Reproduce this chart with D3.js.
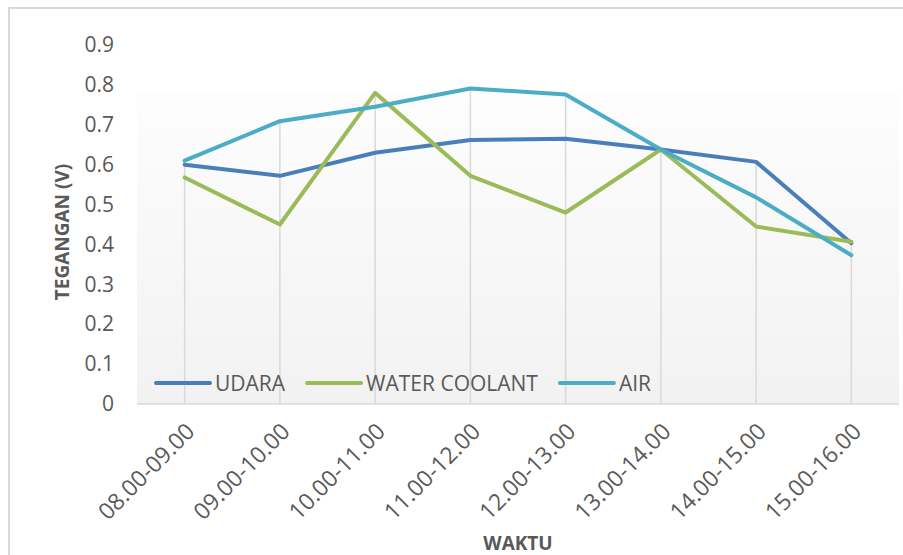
<!DOCTYPE html>
<html>
<head>
<meta charset="utf-8">
<script src="https://cdn.jsdelivr.net/npm/d3@7/dist/d3.min.js"></script>
<style>
  html, body { margin: 0; padding: 0; background: #ffffff; }
  svg { display: block; font-family: "Open Sans", "DejaVu Sans", sans-serif; }
</style>
</head>
<body>
<svg id="chart" width="903" height="555"></svg>
<script>
const categories = ["08.00-09.00","09.00-10.00","10.00-11.00","11.00-12.00","12.00-13.00","13.00-14.00","14.00-15.00","15.00-16.00"];
const udara = [0.60, 0.572, 0.63, 0.662, 0.665, 0.638, 0.607, 0.403];
const waterCoolant = [0.568, 0.45, 0.78, 0.572, 0.48, 0.638, 0.445, 0.407];
const air = [0.61, 0.709, 0.745, 0.791, 0.776, 0.638, 0.518, 0.373];
const yTicks = [0, 0.1, 0.2, 0.3, 0.4, 0.5, 0.6, 0.7, 0.8, 0.9];
const seriesNames = ["UDARA", "WATER COOLANT", "AIR"];
const seriesColors = ["#4a7ebb", "#9bbb59", "#4bacc6"];
const seriesValues = [udara, waterCoolant, air];

const svg = d3.select("#chart");
const textColor = "#595959";

// chart frame
svg.append("rect").attr("x", 9).attr("y", 8).attr("width", 910).attr("height", 570)
  .attr("fill", "#ffffff").attr("stroke", "#d9d9d9").attr("stroke-width", 2);

const plotLeft = 137, plotRight = 899, plotTop = 92, plotBottom = 404;

const x = d3.scalePoint().domain(categories).range([plotLeft, plotRight]).padding(0.5);
const y = d3.scaleLinear().domain([0, 0.9]).range([404, 45]);

// plot area gradient
const defs = svg.append("defs");
const grad = defs.append("linearGradient").attr("id", "pa").attr("x1", 0).attr("y1", 0).attr("x2", 0).attr("y2", 1);
grad.append("stop").attr("offset", "0%").attr("stop-color", "#fdfdfd");
grad.append("stop").attr("offset", "100%").attr("stop-color", "#f2f2f2");
svg.append("rect").attr("x", plotLeft).attr("y", plotTop)
  .attr("width", plotRight - plotLeft).attr("height", plotBottom - plotTop)
  .attr("fill", "url(#pa)");

// drop lines
const maxes = categories.map((c, i) => d3.max(seriesValues, s => s[i]));
svg.append("g").selectAll("line").data(categories).join("line")
  .attr("x1", d => x(d)).attr("x2", d => x(d))
  .attr("y1", (d, i) => y(maxes[i])).attr("y2", y(0))
  .attr("stroke", "#d9d9d9").attr("stroke-width", 1.5);

// x axis line
svg.append("line").attr("x1", plotLeft).attr("x2", plotRight)
  .attr("y1", y(0)).attr("y2", y(0))
  .attr("stroke", "#d9d9d9").attr("stroke-width", 1.5);

// y axis labels
const yAxis = d3.axisLeft(y).tickValues(yTicks).tickFormat(d => d === 0 ? "0" : d3.format(".1f")(d)).tickSize(0).tickPadding(0);
const yg = svg.append("g").attr("transform", "translate(114,0)").call(yAxis);
yg.select(".domain").remove();
yg.selectAll("text").attr("fill", textColor).style("font-size", "21px").style("font-family", "'Open Sans', sans-serif");

// x axis labels
const xAxis = d3.axisBottom(x).tickSize(0).tickPadding(0);
const xg = svg.append("g").attr("transform", `translate(0,${y(0)})`).call(xAxis);
xg.select(".domain").remove();
xg.selectAll("text")
  .attr("fill", textColor).style("font-size", "23px").style("font-family", "'Open Sans', sans-serif")
  .attr("text-anchor", "end").attr("dy", null).attr("y", 0)
  .attr("transform", "translate(11,29) rotate(-45)");

// lines
const line = d3.line().x((d, i) => x(categories[i])).y(d => y(d));
seriesValues.forEach((s, k) => {
  svg.append("path").datum(s).attr("d", line)
    .attr("fill", "none").attr("stroke", seriesColors[k]).attr("stroke-width", 4)
    .attr("stroke-linejoin", "round").attr("stroke-linecap", "round");
});

// legend
const legendY = 383;
let lx = 156;
seriesNames.forEach((n, k) => {
  svg.append("line").attr("x1", lx).attr("x2", lx + 54).attr("y1", legendY).attr("y2", legendY)
    .attr("stroke", seriesColors[k]).attr("stroke-width", 4).attr("stroke-linecap", "round");
  const t = svg.append("text").attr("x", lx + 59).attr("y", legendY).attr("dy", "0.36em")
    .attr("fill", textColor).style("font-size", "21px").text(n);
  lx = lx + 59 + t.node().getComputedTextLength() + 22;
});

// axis titles
svg.append("text").attr("transform", `translate(69,${232}) rotate(-90)`)
  .attr("text-anchor", "middle").attr("fill", textColor)
  .style("font-size", "19px").style("font-weight", "bold").text("TEGANGAN (V)");
svg.append("text").attr("x", (plotLeft + plotRight) / 2).attr("y", 550)
  .attr("text-anchor", "middle").attr("fill", textColor)
  .style("font-size", "19px").style("font-weight", "bold").text("WAKTU");
</script>
</body>
</html>
